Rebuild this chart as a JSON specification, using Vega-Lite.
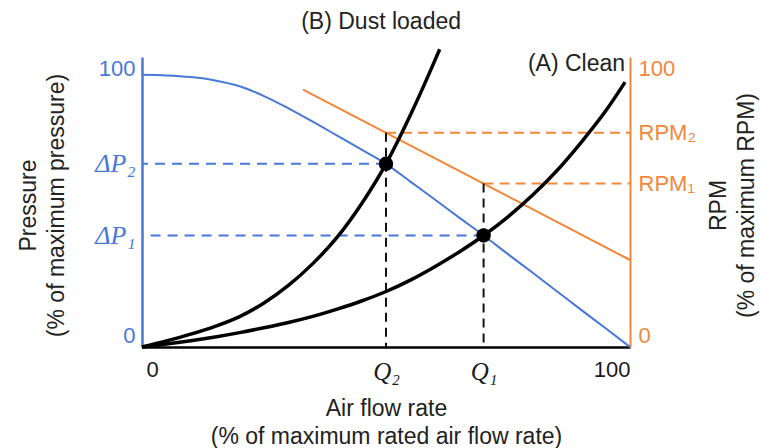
{
  "$schema": "https://vega.github.io/schema/vega-lite/v6.json",
  "width": 488,
  "height": 290,
  "autosize": {"type": "none"},
  "padding": {"left": 142, "top": 57, "right": 131, "bottom": 101},
  "config": {
    "view": {"stroke": null},
    "axis": {"grid": false, "ticks": false, "labelFont": "Liberation Sans", "titleFont": "Liberation Sans", "titleFontWeight": "normal", "titleFontSize": 23, "titleColor": "#222222", "titleLineHeight": 28},
    "text": {"font": "Liberation Sans"}
  },
  "datasets": {
    "fan_pressure": [
      {"x": 0, "y": 97.6}, {"x": 5, "y": 97.4}, {"x": 10, "y": 96.8}, {"x": 15, "y": 95.6},
      {"x": 20, "y": 93.5}, {"x": 25, "y": 90.0}, {"x": 30, "y": 85.6}, {"x": 35, "y": 80.8},
      {"x": 40, "y": 75.8}, {"x": 45, "y": 70.8}, {"x": 50, "y": 65.7}, {"x": 55, "y": 59.3},
      {"x": 60, "y": 52.9}, {"x": 65, "y": 46.4}, {"x": 70, "y": 40.0}, {"x": 75, "y": 33.3},
      {"x": 80, "y": 26.7}, {"x": 85, "y": 20.0}, {"x": 90, "y": 13.3}, {"x": 95, "y": 6.7},
      {"x": 100, "y": 0}
    ],
    "system_curves": [
      {"filter": "clean", "x": 0, "y": 0}, {"filter": "clean", "x": 5, "y": 1.05}, {"filter": "clean", "x": 10, "y": 2.25},
      {"filter": "clean", "x": 15, "y": 3.6}, {"filter": "clean", "x": 20, "y": 5.15}, {"filter": "clean", "x": 25, "y": 6.9},
      {"filter": "clean", "x": 30, "y": 8.8}, {"filter": "clean", "x": 35, "y": 11.0}, {"filter": "clean", "x": 40, "y": 13.6},
      {"filter": "clean", "x": 45, "y": 16.5}, {"filter": "clean", "x": 50, "y": 19.9}, {"filter": "clean", "x": 55, "y": 24.0},
      {"filter": "clean", "x": 60, "y": 28.8}, {"filter": "clean", "x": 65, "y": 34.1}, {"filter": "clean", "x": 70, "y": 40.0},
      {"filter": "clean", "x": 75, "y": 46.7}, {"filter": "clean", "x": 80, "y": 54.4}, {"filter": "clean", "x": 85, "y": 63.2},
      {"filter": "clean", "x": 90, "y": 73.4}, {"filter": "clean", "x": 95, "y": 84.6}, {"filter": "clean", "x": 99, "y": 95.0},
      {"filter": "dust", "x": 0, "y": 0}, {"filter": "dust", "x": 5, "y": 2.2}, {"filter": "dust", "x": 10, "y": 4.6},
      {"filter": "dust", "x": 15, "y": 7.4}, {"filter": "dust", "x": 20, "y": 10.9}, {"filter": "dust", "x": 25, "y": 15.8},
      {"filter": "dust", "x": 30, "y": 22.1}, {"filter": "dust", "x": 35, "y": 29.9}, {"filter": "dust", "x": 40, "y": 39.4},
      {"filter": "dust", "x": 45, "y": 51.4}, {"filter": "dust", "x": 50, "y": 65.7}, {"filter": "dust", "x": 55, "y": 83.2},
      {"filter": "dust", "x": 60, "y": 102.7}, {"filter": "dust", "x": 61, "y": 106.8}
    ],
    "fan_speed": [
      {"x": 33, "y": 92.3}, {"x": 100, "y": 31.2}
    ],
    "operating_points": [
      {"filter": "clean", "q": 70, "dp": 40.0, "rpm": 58.6},
      {"filter": "dust", "q": 50, "dp": 65.7, "rpm": 76.8}
    ],
    "curve_labels": [
      {"label": "(B) Dust loaded", "x": 49.0, "y": 116.6},
      {"label": "(A) Clean", "x": 99.0, "y": 101.5}
    ]
  },
  "layer": [
    {
      "data": {"name": "fan_speed"},
      "encoding": {
        "x": {"field": "x", "type": "quantitative", "scale": {"domain": [0, 100], "nice": false, "zero": false}},
        "y": {
          "field": "y", "type": "quantitative",
          "scale": {"domain": [0, 104], "nice": false, "zero": false},
          "axis": {
            "orient": "right",
            "values": [0, 58.6, 76.8, 100],
            "labelExpr": "datum.value == 58.6 ? 'RPM₁' : datum.value == 76.8 ? 'RPM₂' : datum.label",
            "labelColor": "#f4863a",
            "labelFontSize": 22,
            "labelPadding": 8,
            "labelFlush": true,
            "labelFlushOffset": 0,
            "domainColor": "#f4863a",
            "domainWidth": 2,
            "title": ["RPM", "(% of maximum RPM)"],
            "titleAngle": 270,
            "titleAlign": "center",
            "titleBaseline": "middle",
            "titleX": 88,
            "titleY": 148
          }
        }
      },
      "layer": [
        {
          "mark": {"type": "line", "color": "#f4863a", "strokeWidth": 2}
        },
        {
          "data": {"name": "operating_points"},
          "mark": {"type": "rule", "color": "#f4863a", "strokeWidth": 2, "strokeDash": [10, 6]},
          "encoding": {
            "x": {"field": "q", "type": "quantitative"},
            "x2": {"datum": 100},
            "y": {"field": "rpm", "type": "quantitative"}
          }
        }
      ]
    },
    {
      "encoding": {
        "x": {
          "field": "x", "type": "quantitative",
          "scale": {"domain": [0, 100], "nice": false, "zero": false},
          "axis": {
            "orient": "bottom",
            "values": [0, 50, 70, 100],
            "labelExpr": "datum.value == 50 ? 'Q₂' : datum.value == 70 ? 'Q₁' : datum.label",
            "labelFont": {"condition": {"test": "datum.value == 50 || datum.value == 70", "value": "Liberation Serif"}, "value": "Liberation Sans"},
            "labelFontStyle": {"condition": {"test": "datum.value == 50 || datum.value == 70", "value": "italic"}, "value": "normal"},
            "labelFontSize": {"condition": {"test": "datum.value == 50 || datum.value == 70", "value": 25}, "value": 22},
            "labelOffset": {"condition": {"test": "datum.value == 0", "value": 4}, "value": 0},
            "labelFlush": true,
            "labelFlushOffset": 0,
            "labelOverlap": false,
            "labelColor": "#1a1a1a",
            "labelPadding": 12,
            "domainColor": "#000000",
            "domainWidth": 2.5,
            "title": ["Air flow rate", "(% of maximum rated air flow rate)"],
            "titleAlign": "center",
            "titleBaseline": "middle",
            "titleX": 244,
            "titleY": 61
          }
        },
        "y": {
          "field": "y", "type": "quantitative",
          "scale": {"domain": [0, 104], "nice": false, "zero": false},
          "axis": {
            "orient": "left",
            "values": [0, 40, 65.7, 100],
            "labelExpr": "datum.value == 40 ? 'ΔP₁' : datum.value == 65.7 ? 'ΔP₂' : datum.label",
            "labelFont": {"condition": {"test": "datum.value == 40 || datum.value == 65.7", "value": "Liberation Serif"}, "value": "Liberation Sans"},
            "labelFontStyle": {"condition": {"test": "datum.value == 40 || datum.value == 65.7", "value": "italic"}, "value": "normal"},
            "labelFontSize": {"condition": {"test": "datum.value == 40 || datum.value == 65.7", "value": 26}, "value": 22},
            "labelColor": "#4878d8",
            "labelPadding": 7,
            "labelFlush": true,
            "labelFlushOffset": 0,
            "domainColor": "#4878d8",
            "domainWidth": 2.5,
            "title": ["Pressure", "(% of maximum pressure)"],
            "titleAngle": 270,
            "titleAlign": "center",
            "titleBaseline": "middle",
            "titleX": -114,
            "titleY": 148
          }
        }
      },
      "layer": [
        {
          "data": {"name": "operating_points"},
          "mark": {"type": "rule", "color": "#4878d8", "strokeWidth": 2, "strokeDash": [10, 7]},
          "encoding": {
            "x": {"field": "q", "type": "quantitative"},
            "x2": {"datum": 0},
            "y": {"field": "dp", "type": "quantitative"}
          }
        },
        {
          "data": {"name": "operating_points"},
          "mark": {"type": "rule", "color": "#111111", "strokeWidth": 2, "strokeDash": [9, 6]},
          "encoding": {
            "x": {"field": "q", "type": "quantitative"},
            "y": {"field": "rpm", "type": "quantitative"},
            "y2": {"datum": 0}
          }
        },
        {
          "data": {"name": "fan_pressure"},
          "mark": {"type": "line", "color": "#4878d8", "strokeWidth": 2, "interpolate": "monotone"}
        },
        {
          "data": {"name": "system_curves"},
          "mark": {"type": "line", "color": "#000000", "strokeWidth": 3.5, "interpolate": "monotone"},
          "encoding": {"detail": {"field": "filter", "type": "nominal"}}
        },
        {
          "data": {"name": "operating_points"},
          "mark": {"type": "point", "filled": true, "color": "#000000", "opacity": 1, "size": 210},
          "encoding": {
            "x": {"field": "q", "type": "quantitative"},
            "y": {"field": "dp", "type": "quantitative"}
          }
        },
        {
          "data": {"name": "curve_labels"},
          "transform": [{"filter": "datum.label == '(B) Dust loaded'"}],
          "mark": {"type": "text", "fontSize": 23, "color": "#222222", "baseline": "middle", "align": "center"},
          "encoding": {"text": {"field": "label"}}
        },
        {
          "data": {"name": "curve_labels"},
          "transform": [{"filter": "datum.label == '(A) Clean'"}],
          "mark": {"type": "text", "fontSize": 23, "color": "#222222", "baseline": "middle", "align": "right"},
          "encoding": {"text": {"field": "label"}}
        }
      ]
    }
  ],
  "resolve": {"axis": {"y": "independent"}}
}
